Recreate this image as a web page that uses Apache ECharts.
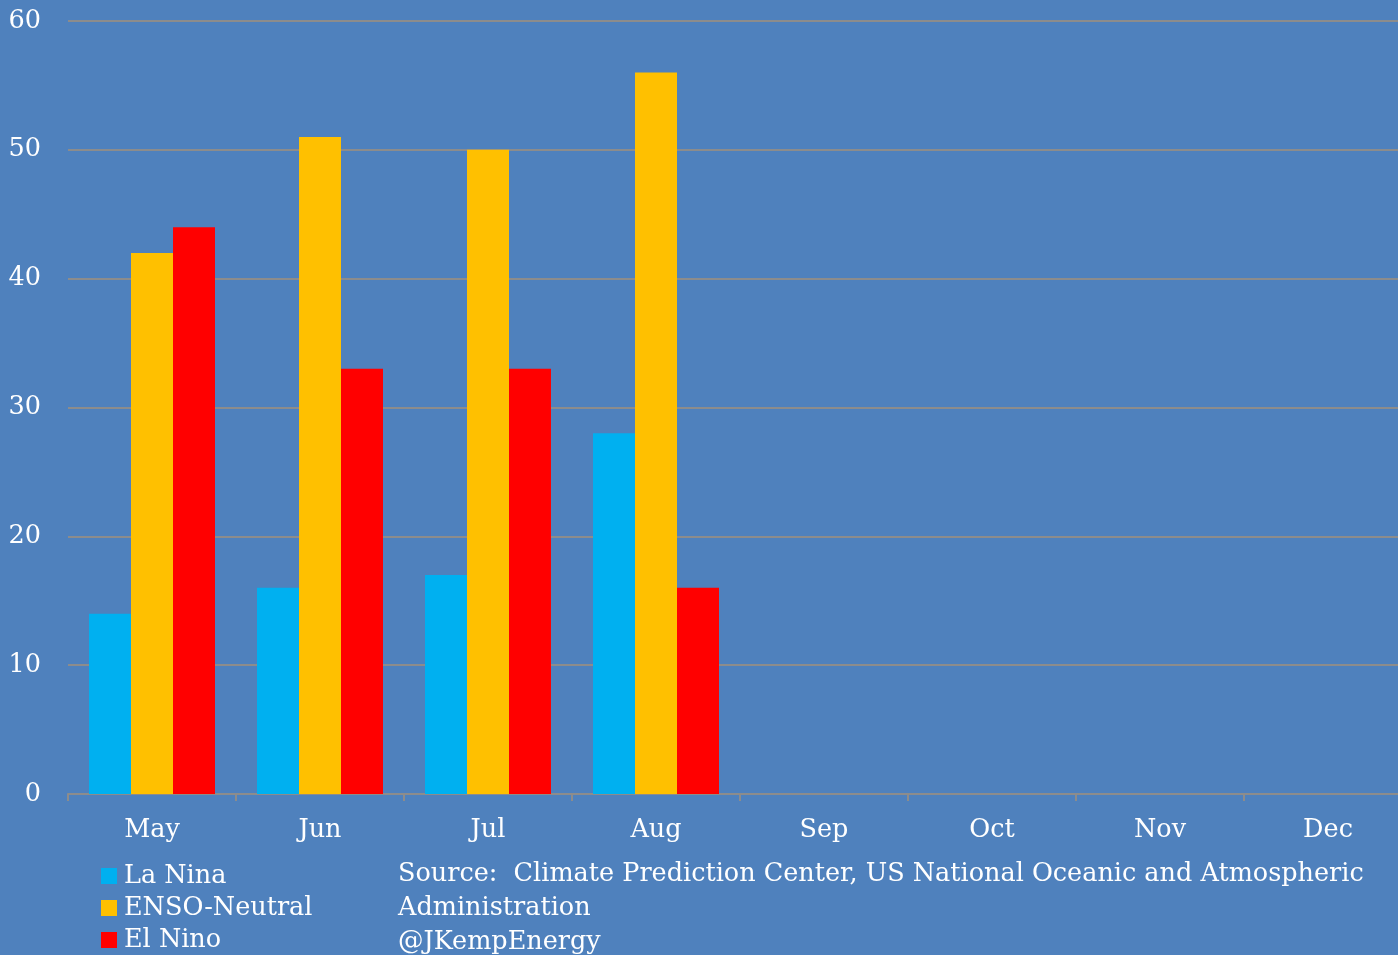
<!DOCTYPE html>
<html>
<head>
<meta charset="utf-8">
<script src="https://cdn.jsdelivr.net/npm/echarts@6/dist/echarts.min.js"></script>
<style>
  html, body { margin: 0; padding: 0; background: #4F81BD; overflow: hidden; }
  /* canvas is a little wider than the window so the plot area runs past the right edge */
  #chart { width: 1412px; height: 955px; }
</style>
</head>
<body>
<div id="chart"></div>
<script>
// ENSO outlook probabilities (%) by month
const months = ['May', 'Jun', 'Jul', 'Aug', 'Sep', 'Oct', 'Nov', 'Dec'];
const laNina = [14, 16, 17, 28, null, null, null, null];
const ensoNeutral = [42, 51, 50, 56, null, null, null, null];
const elNino = [44, 33, 33, 16, null, null, null, null];
const seriesNames = ['La Nina', 'ENSO-Neutral', 'El Nino'];
const seriesColors = ['#00B0F0', '#FFC000', '#FF0000'];
const sourceLines = [
  'Source:  Climate Prediction Center, US National Oceanic and Atmospheric',
  'Administration',
  '@JKempEnergy'
];

const FONT = '"DejaVu Serif", "Liberation Serif", serif';
const FS = 25.5;
const chart = echarts.init(document.getElementById('chart'));

chart.setOption({
  backgroundColor: '#4F81BD',
  animation: false,
  textStyle: { fontFamily: FONT, color: '#FFFFFF' },
  grid: { left: 68, right: 0, top: 21, bottom: 161 },
  legend: {
    orient: 'vertical',
    left: 96,
    top: 858,
    height: 120,
    itemWidth: 16,
    itemHeight: 16,
    itemGap: 6,
    icon: 'rect',
    data: seriesNames,
    textStyle: { fontFamily: FONT, fontSize: FS, color: '#FFFFFF', padding: [0, 0, 0, 2] }
  },
  xAxis: {
    type: 'category',
    data: months,
    axisLine: { lineStyle: { color: '#8C8C8C', width: 2 } },
    axisTick: { show: true, length: 7, lineStyle: { color: '#8C8C8C', width: 2 } },
    axisLabel: { fontFamily: FONT, fontSize: FS, color: '#FFFFFF', margin: 23 }
  },
  yAxis: {
    type: 'value',
    min: 0,
    max: 60,
    interval: 10,
    axisLine: { show: false },
    axisTick: { show: false },
    splitLine: { lineStyle: { color: '#8C8C8C', width: 2 } },
    axisLabel: { fontFamily: FONT, fontSize: FS, color: '#FFFFFF', margin: 27 }
  },
  series: [
    { name: seriesNames[0], type: 'bar', data: laNina, itemStyle: { color: seriesColors[0] }, barGap: '0%', barCategoryGap: '25%' },
    { name: seriesNames[1], type: 'bar', data: ensoNeutral, itemStyle: { color: seriesColors[1] }, barGap: '0%', barCategoryGap: '25%' },
    { name: seriesNames[2], type: 'bar', data: elNino, itemStyle: { color: seriesColors[2] }, barGap: '0%', barCategoryGap: '25%' }
  ],
  graphic: sourceLines.map((line, i) => ({
    type: 'text',
    left: 398,
    top: 861 + i * 34,
    style: { text: line, fill: '#FFFFFF', font: FS + 'px ' + FONT }
  }))
});
</script>
</body>
</html>
